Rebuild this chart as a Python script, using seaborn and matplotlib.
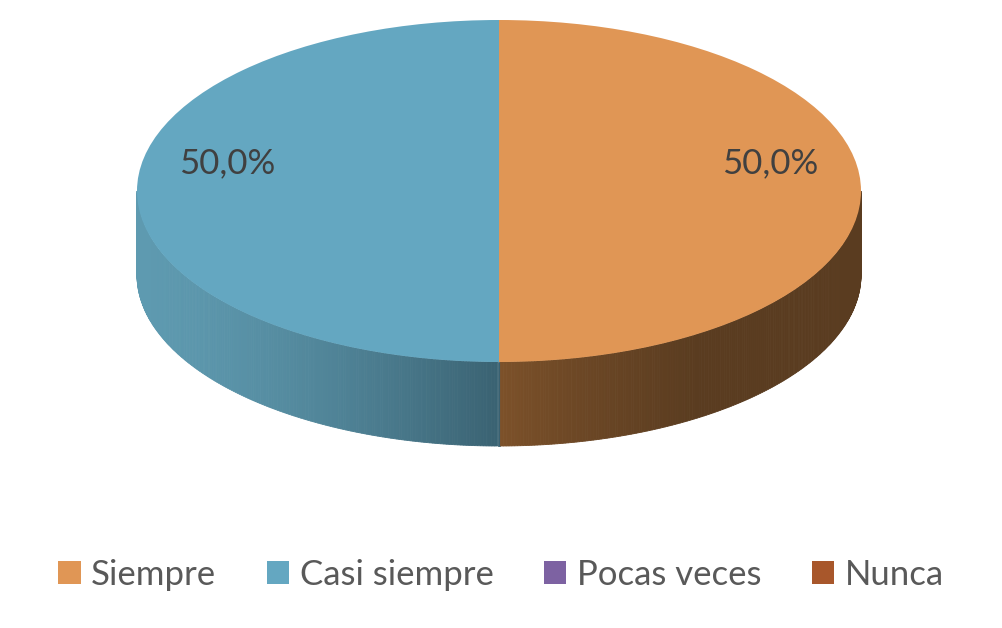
import numpy as np
import matplotlib
matplotlib.use('Agg')
import matplotlib.pyplot as plt
import matplotlib.colors as mcolors
from matplotlib.patches import Polygon
import seaborn as sns

# datos
categorias = ['Siempre', 'Casi siempre', 'Pocas veces', 'Nunca']
valores = [50.0, 50.0, 0.0, 0.0]
colores = ['#e09655', '#64a7c1', '#7d62a2', '#a8572b']
# colores del lateral (claro, oscuro)
lateral = {0: ('#7e522a', '#5a3c20'), 1: ('#5e9ab0', '#3a6272'),
           2: ('#5a4775', '#3f3153'), 3: ('#7a3f20', '#532b16')}

sns.set_theme(style='white')
plt.rcParams['font.family'] = ['Lato', 'DejaVu Sans']

fig = plt.figure(figsize=(10.02, 6.28), dpi=100)
ax = fig.add_axes([0, 0, 1, 1])

# elipse: centro (499,191) px, radios 362 x 171 px, espesor 84 px
cx, cy, rx, ry, prof = 499, 191, 362, 171, 84
d = prof / ry

# lateral 3D (mitad frontal), angulos a partir de los valores
frac = np.array(valores) / sum(valores)
ang = np.linspace(180, 360, 400)
for a0, a1 in zip(ang[:-1], ang[1:]):
    am = (a0 + a1) / 2
    # que porcion es (angulo en sentido horario desde arriba)
    ah = (90 - am) % 360
    idx = int(np.searchsorted(np.cumsum(frac) * 360, ah, side='right'))
    idx = min(idx, len(valores) - 1)
    x = np.cos(np.radians(am))
    claro, oscuro = lateral[idx]
    if x < 0:
        t = (1 + x) ** 1.5
    else:
        t = min(1, (x / 0.55) ** 0.8)
    c = np.array(mcolors.to_rgb(claro)) * (1 - t) + np.array(mcolors.to_rgb(oscuro)) * t
    xs = np.cos(np.radians([a0, a1, a1, a0]))
    ys = np.sin(np.radians([a0, a1, a1, a0])) - np.array([0, 0, d, d])
    ax.add_patch(Polygon(np.column_stack([xs, ys]), closed=True, facecolor=c,
                         edgecolor=c, linewidth=0.6, zorder=1))


def etiqueta(p):
    return f'{p:.1f}%'.replace('.', ',') if p > 0 else ''


wedges, textos, pcts = ax.pie(valores, colors=colores, startangle=90, counterclock=False,
                              radius=1, autopct=etiqueta, pctdistance=0.75,
                              wedgeprops=dict(linewidth=0),
                              textprops=dict(fontsize=25, color='#404040'))
for w in wedges:
    w.set_zorder(2)
for t in pcts:
    x, y = t.get_position()
    t.set_position((x, y + 0.165))
    t.set_zorder(3)

ax.set_aspect('auto')
ax.set_xlim(-cx / rx, (1002 - cx) / rx)
ax.set_ylim(-(628 - cy) / ry, cy / ry)
ax.axis('off')

leg = fig.legend(wedges, categorias, loc='center', bbox_to_anchor=(0.5, 1 - 575 / 628),
                 ncol=4, frameon=False, fontsize=25, handlelength=0.65, handleheight=0.65,
                 handletextpad=0.3, columnspacing=1.45)
for t in leg.get_texts():
    t.set_color('#595959')

fig.savefig('out.png', dpi=100, facecolor='white')
